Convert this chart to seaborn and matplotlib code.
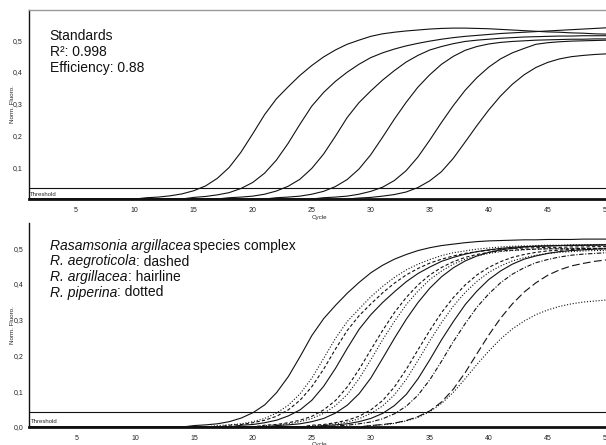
import matplotlib
matplotlib.use("Agg")
import matplotlib.pyplot as plt
from matplotlib.ticker import FuncFormatter
import pandas as pd
import seaborn as sns

W, H = 606, 445

cycles = list(range(1, 51))
x_ticks = [5, 10, 15, 20, 25, 30, 35, 40, 45, 50]
top_y_ticks = [0.1, 0.2, 0.3, 0.4, 0.5]
bot_y_ticks = [0.0, 0.1, 0.2, 0.3, 0.4, 0.5]
top_threshold = 0.034
bot_threshold = 0.042

# top panel: dilution series of the standards
# each list starts at the cycle in std_starts, baseline (0) before that
std_names = ["S1", "S2", "S3", "S4", "S5", "S6"]
std_starts = [11, 15, 18, 22, 26, 29]
std_1 = [0.004, 0.006, 0.010, 0.016, 0.026, 0.041, 0.065, 0.099, 0.147, 0.205,
         0.265, 0.315, 0.353, 0.389, 0.420, 0.447, 0.469, 0.487, 0.500, 0.512,
         0.520, 0.525, 0.529, 0.532, 0.535, 0.537, 0.538, 0.538, 0.537, 0.536,
         0.534, 0.532, 0.530, 0.528, 0.526, 0.525, 0.523, 0.522, 0.520, 0.519]
std_2 = [0.005, 0.008, 0.013, 0.020, 0.033, 0.052,
         0.081, 0.122, 0.175, 0.235, 0.292, 0.335, 0.370, 0.399, 0.424, 0.445,
         0.460, 0.472, 0.482, 0.490, 0.497, 0.503, 0.508, 0.512, 0.515, 0.518,
         0.521, 0.523, 0.525, 0.527, 0.529, 0.531, 0.533, 0.535, 0.537, 0.539]
std_3 = [0.004, 0.006, 0.009,
         0.015, 0.025, 0.040, 0.062, 0.096, 0.141, 0.197, 0.256, 0.303, 0.340,
         0.374, 0.404, 0.431, 0.452, 0.469, 0.480, 0.489, 0.496, 0.500, 0.503,
         0.506, 0.508, 0.510, 0.511, 0.512, 0.513, 0.513, 0.514, 0.514, 0.514]
std_4 = [0.004, 0.006, 0.009, 0.015,
         0.024, 0.039, 0.061, 0.094, 0.139, 0.194, 0.251, 0.304, 0.352, 0.391,
         0.424, 0.449, 0.468, 0.480, 0.488, 0.493, 0.496, 0.498, 0.500, 0.501,
         0.502, 0.503, 0.503, 0.504, 0.504]
std_5 = [0.004, 0.006, 0.009, 0.015, 0.024,
         0.037, 0.058, 0.089, 0.132, 0.185, 0.241, 0.294, 0.342, 0.382, 0.415,
         0.441, 0.460, 0.474, 0.487, 0.492, 0.495, 0.497, 0.498, 0.499, 0.500]
std_6 = [0.003, 0.005,
         0.009, 0.014, 0.022, 0.036, 0.057, 0.086, 0.128, 0.179, 0.231, 0.280,
         0.324, 0.361, 0.391, 0.414, 0.430, 0.441, 0.448, 0.452, 0.455, 0.457]

# bottom panel: Rasamsonia isolates
sp_names = ["arg1", "pip1", "aeg1", "arg2", "aeg2", "pip2", "arg3",
            "aeg3", "pip3", "arg4", "aeg4", "aeg5", "pip4"]
sp_starts = [15, 17, 18, 19, 21, 21, 22, 25, 25, 26, 27, 30, 30]
arg_1 = [0.004, 0.006, 0.009, 0.015, 0.025, 0.040, 0.062, 0.096, 0.141, 0.197,
         0.256, 0.303, 0.340, 0.374, 0.404, 0.431, 0.452, 0.469, 0.482, 0.493,
         0.501, 0.507, 0.511, 0.515, 0.518, 0.520, 0.521, 0.522, 0.523, 0.523,
         0.524, 0.524, 0.524, 0.525, 0.525, 0.525]
pip_1 = [0.004, 0.006, 0.009, 0.015, 0.024, 0.039, 0.061, 0.093, 0.137, 0.192,
         0.248, 0.295, 0.330, 0.364, 0.393, 0.418, 0.439, 0.455, 0.468, 0.479,
         0.487, 0.492, 0.497, 0.500, 0.503, 0.505, 0.506, 0.507, 0.508, 0.508,
         0.509, 0.509, 0.509, 0.510]
aeg_1 = [0.005, 0.007, 0.012, 0.019, 0.030, 0.048, 0.075, 0.113, 0.162, 0.218,
         0.270, 0.311, 0.344, 0.375, 0.402, 0.425, 0.443, 0.458, 0.469, 0.478,
         0.485, 0.490, 0.494, 0.497, 0.499, 0.500, 0.501, 0.502, 0.502, 0.503,
         0.503, 0.504, 0.504]
arg_2 = [0.005, 0.007, 0.012, 0.019, 0.031, 0.048, 0.075, 0.114, 0.164, 0.220,
         0.273, 0.314, 0.348, 0.378, 0.406, 0.429, 0.447, 0.463, 0.474, 0.483,
         0.490, 0.495, 0.499, 0.502, 0.504, 0.505, 0.506, 0.507, 0.507, 0.508,
         0.508, 0.509]
aeg_2 = [0.005, 0.007, 0.012, 0.019, 0.030, 0.048, 0.074, 0.112, 0.161, 0.216,
         0.270, 0.320, 0.362, 0.397, 0.425, 0.446, 0.462, 0.474, 0.482, 0.488,
         0.492, 0.494, 0.496, 0.497, 0.498, 0.498, 0.498, 0.499, 0.499, 0.499]
pip_2 = [0.004, 0.006, 0.009, 0.015, 0.024, 0.038, 0.060, 0.091, 0.135, 0.188,
         0.244, 0.295, 0.342, 0.380, 0.412, 0.436, 0.455, 0.469, 0.478, 0.485,
         0.490, 0.493, 0.495, 0.497, 0.498, 0.498, 0.498, 0.499, 0.499, 0.499]
arg_3 = [0.004, 0.006, 0.009, 0.015, 0.024, 0.039, 0.061, 0.093, 0.137, 0.192,
         0.248, 0.301, 0.348, 0.388, 0.420, 0.445, 0.464, 0.478, 0.488, 0.495,
         0.499, 0.503, 0.505, 0.506, 0.507, 0.508, 0.508, 0.509, 0.509]
aeg_3 = [0.005, 0.007, 0.012, 0.019, 0.030, 0.048, 0.074, 0.112, 0.161, 0.216,
         0.270, 0.320, 0.362, 0.397, 0.425, 0.446, 0.462, 0.474, 0.482, 0.488,
         0.492, 0.494, 0.496, 0.497, 0.498, 0.498]
pip_3 = [0.003, 0.005, 0.009, 0.014, 0.023, 0.038, 0.059, 0.090, 0.133, 0.186,
         0.241, 0.292, 0.338, 0.376, 0.407, 0.432, 0.450, 0.464, 0.473, 0.480,
         0.485, 0.488, 0.490, 0.492, 0.493, 0.493]
arg_4 = [0.004, 0.006, 0.009, 0.015, 0.024, 0.038, 0.060, 0.091, 0.135, 0.188,
         0.244, 0.295, 0.342, 0.380, 0.412, 0.436, 0.455, 0.469, 0.478, 0.485,
         0.490, 0.493, 0.495, 0.497, 0.498]
aeg_4 = [0.003, 0.005, 0.009, 0.014, 0.023, 0.037, 0.058, 0.089, 0.132, 0.184,
         0.239, 0.289, 0.335, 0.372, 0.403, 0.427, 0.445, 0.459, 0.468, 0.475,
         0.480, 0.483, 0.485, 0.487]
aeg_5 = [0.004, 0.007, 0.011, 0.018, 0.029, 0.045, 0.070, 0.106, 0.152, 0.205,
         0.257, 0.304, 0.344, 0.377, 0.403, 0.424, 0.439, 0.450, 0.457, 0.463,
         0.467]
pip_4 = [0.004, 0.006, 0.010, 0.017, 0.027, 0.043, 0.066, 0.097, 0.135, 0.175,
         0.212, 0.246, 0.274, 0.296, 0.314, 0.327, 0.337, 0.344, 0.349, 0.352,
         0.355]

sp_dashes = {"arg1": "", "arg2": "", "arg3": "", "arg4": "",
             "pip1": (1, 1.6), "pip2": (1, 1.6), "pip3": (1, 1.6), "pip4": (1, 1.6),
             "aeg1": (3, 2), "aeg2": (3, 2), "aeg3": (3, 2),
             "aeg4": (4, 1.5, 1, 1.5), "aeg5": (7, 3)}


def build_frame(names, starts, series):
    parts = []
    for name, start, vals in zip(names, starts, series):
        fluor = [0.0] * (start - 1) + list(vals)
        parts.append(pd.DataFrame({"cycle": cycles[:len(fluor)],
                                   "fluor": fluor, "curve": name}))
    return pd.concat(parts, ignore_index=True)


df_top = build_frame(std_names, std_starts,
                     [std_1, std_2, std_3, std_4, std_5, std_6])
df_bot = build_frame(sp_names, sp_starts,
                     [arg_1, pip_1, aeg_1, arg_2, aeg_2, pip_2, arg_3,
                      aeg_3, pip_3, arg_4, aeg_4, aeg_5, pip_4])

sns.set_theme(style="white")
plt.rcParams["font.family"] = ["Liberation Sans", "DejaVu Sans"]

fig = plt.figure(figsize=(W / 100, H / 100), dpi=100)
ax_top = fig.add_axes([28.5 / W, (H - 199) / H, (622 - 28.5) / W, (199 - 10) / H])
ax_bot = fig.add_axes([29 / W, (H - 427) / H, (622 - 29) / W, (427 - 223) / H])

sns.lineplot(data=df_top, x="cycle", y="fluor", units="curve", estimator=None,
             color="#111111", lw=0.8, legend=False, ax=ax_top)
sns.lineplot(data=df_bot, x="cycle", y="fluor", units="curve", style="curve",
             dashes=sp_dashes, estimator=None, color="#111111", lw=0.8,
             legend=False, ax=ax_bot)

comma = FuncFormatter(lambda v, p: f"{v:.1f}".replace(".", ","))

for ax, ylim, yt, thr, lab_y in [(ax_top, 0.595, top_y_ticks, top_threshold, -0.085),
                                 (ax_bot, 0.57, bot_y_ticks, bot_threshold, -0.074)]:
    ax.set_xlim(1, 51.3)
    ax.set_ylim(0, ylim)
    ax.set_xticks(x_ticks)
    ax.set_yticks(yt)
    ax.yaxis.set_major_formatter(comma)
    ax.tick_params(axis="both", length=0, labelsize=5, colors="#222222")
    ax.tick_params(axis="x", pad=6)
    ax.tick_params(axis="y", pad=4)
    ax.axhline(thr, color="#111111", lw=0.8)
    ax.text(1.15, 0.007, "Threshold", fontsize=4.3, va="bottom", ha="left")
    ax.set_xlabel("Cycle", fontsize=4.5)
    ax.xaxis.set_label_coords(0.49, lab_y)
    ax.set_ylabel("Norm. Fluoro.", fontsize=4.5)
    ax.yaxis.set_label_coords(-0.023, 0.5)
    ax.spines["right"].set_visible(False)
    ax.spines["left"].set_color("#111111")
    ax.spines["left"].set_linewidth(1.0)
    ax.spines["bottom"].set_color("#111111")
    ax.spines["bottom"].set_linewidth(2.0)

ax_top.spines["top"].set_color("#999999")
ax_top.spines["top"].set_linewidth(1.0)
ax_bot.spines["top"].set_visible(False)

renderer = fig.canvas.get_renderer()


def write_line(x_px, y_px, parts, size=10):
    x = x_px
    for txt, st, gap in parts:
        t = fig.text((x + gap) / W, 1 - y_px / H, txt, fontsize=size, style=st,
                     va="baseline", ha="left", color="#111111")
        x = t.get_window_extent(renderer).x1


write_line(49.5, 40, [("Standards", "normal", 0)])
write_line(50, 56, [("R²: 0.998", "normal", 0)])
write_line(50, 72, [("Efficiency: 0.88", "normal", 0)])

write_line(50, 250, [("Rasamsonia argillacea", "italic", 0),
                     ("species complex", "normal", 2)])
write_line(50, 265.5, [("R. aegroticola", "italic", 0), (": dashed", "normal", 0)])
write_line(50, 281, [("R. argillacea", "italic", 0), (": hairline", "normal", 0)])
write_line(50, 296.5, [("R. piperina", "italic", 0), (": dotted", "normal", 0)])

fig.savefig("out.png", dpi=100)
